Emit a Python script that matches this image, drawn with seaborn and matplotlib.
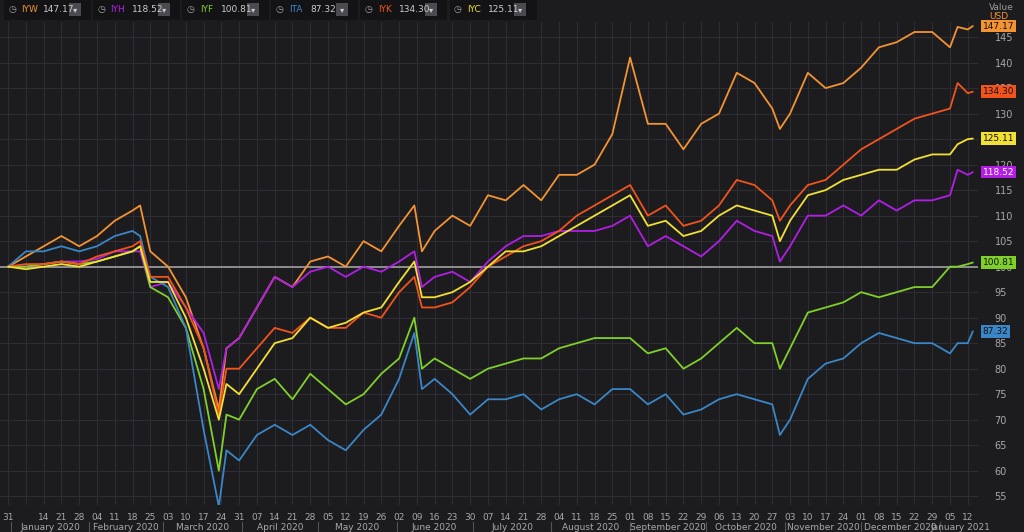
import matplotlib
matplotlib.use("Agg")
import matplotlib.pyplot as plt
import seaborn as sns
import pandas as pd
import numpy as np

dates = ["2019-12-31","2020-01-07","2020-01-14","2020-01-21","2020-01-28","2020-02-04","2020-02-11","2020-02-18","2020-02-21","2020-02-25",
         "2020-03-03","2020-03-10","2020-03-17","2020-03-23","2020-03-26","2020-03-31","2020-04-07","2020-04-14","2020-04-21","2020-04-28",
         "2020-05-05","2020-05-12","2020-05-19","2020-05-26","2020-06-02","2020-06-08","2020-06-11","2020-06-16","2020-06-23","2020-06-30",
         "2020-07-07","2020-07-14","2020-07-21","2020-07-28","2020-08-04","2020-08-11","2020-08-18","2020-08-25","2020-09-01","2020-09-08",
         "2020-09-15","2020-09-22","2020-09-29","2020-10-06","2020-10-13","2020-10-20","2020-10-27","2020-10-30","2020-11-03","2020-11-10",
         "2020-11-17","2020-11-24","2020-12-01","2020-12-08","2020-12-15","2020-12-22","2020-12-29","2021-01-05","2021-01-08","2021-01-12","2021-01-14"]

IYW = [100,102,104,106,104,106,109,111,112,103,100,94,84,72,84,86,92,98,96,101,102,100,105,103,108,112,103,107,110,108,
       114,113,116,113,118,118,120,126,141,128,128,123,128,130,138,136,131,127,130,138,135,136,139,143,144,146,146,143,147,146.5,147.17]
IYH = [100,100,100.5,101,101,101.5,103,103,103,96,97,92,87,76,84,86,92,98,96,99,100,98,100,99,101,103,96,98,99,97,
       101,104,106,106,107,107,107,108,110,104,106,104,102,105,109,107,106,101,104,110,110,112,110,113,111,113,113,114,119,118,118.52]
IYF = [100,100,100.5,101,100.5,101,102,103,104,96,94,88,76,60,71,70,76,78,74,79,76,73,75,79,82,90,80,82,80,78,
       80,81,82,82,84,85,86,86,86,83,84,80,82,85,88,85,85,80,84,91,92,93,95,94,95,96,96,100,100,100.5,100.81]
ITA = [100,103,103,104,103,104,106,107,106,98,96,88,68,53,64,62,67,69,67,69,66,64,68,71,78,87,76,78,75,71,
       74,74,75,72,74,75,73,76,76,73,75,71,72,74,75,74,73,67,70,78,81,82,85,87,86,85,85,83,85,85,87.32]
IYK = [100,100.5,100.5,101,100.5,102,103,104,105,98,98,92,84,71,80,80,84,88,87,90,88,88,91,90,95,98,92,92,93,96,
       100,102,104,105,107,110,112,114,116,110,112,108,109,112,117,116,113,109,112,116,117,120,123,125,127,129,130,131,136,134,134.3]
IYC = [100,99.5,100,100.5,100,101,102,103,104,97,97,90,80,70,77,75,80,85,86,90,88,89,91,92,97,101,94,94,95,97,
       100,103,103,104,106,108,110,112,114,108,109,106,107,110,112,111,110,105,109,114,115,117,118,119,119,121,122,122,124,125,125.11]

names = ["IYW","IYH","IYF","ITA","IYK","IYC"]
series = [IYW, IYH, IYF, ITA, IYK, IYC]
colors = ["#f39332","#b21ee6","#80d02a","#3a86c6","#f2531c","#f2e034"]
y_ticks = list(range(55, 150, 5))
month_labels = ["January 2020","February 2020","March 2020","April 2020","May 2020","June 2020","July 2020",
                "August 2020","September 2020","October 2020","November 2020","December 2020","January 2021"]

sns.set_style("dark")
plt.rcParams['font.family'] = ['DejaVu Sans']
bg = "#1c1c1f"
fig = plt.figure(figsize=(10.24, 5.32), dpi=100, facecolor=bg)
ax = fig.add_axes([0.0, 0.051, 0.955, 0.908])
ax.set_facecolor(bg)

df = pd.DataFrame({"date": pd.to_datetime(dates)})
for n, s, c in zip(names, series, colors):
    sns.lineplot(x=df["date"], y=s, ax=ax, color=c, lw=1.3)

x0 = pd.Timestamp("2019-12-31")
ax.set_xlim(x0 - pd.Timedelta(days=3.2), x0 + pd.Timedelta(days=382))
ax.set_ylim(53.3, 148)
ax.axhline(100, color="#a0a0a0", lw=1.2, zorder=1)

ax.yaxis.tick_right()
ax.set_yticks(y_ticks)
ax.set_yticklabels([str(v) for v in y_ticks], color="#a8a8a8", fontsize=7)
ax.tick_params(axis="y", length=0, pad=12)
ax.set_ylabel("")
ax.set_xlabel("")

wk = pd.date_range("2020-01-07", "2021-01-12", freq="7D")
ticks = [x0] + list(wk)
ax.set_xticks(ticks)
ax.set_xticklabels([d.strftime("%d") if d != pd.Timestamp("2020-01-07") else "" for d in ticks],
                   color="#a8a8a8", fontsize=6.5)
ax.tick_params(axis="x", length=0, pad=6)
ax.grid(True, color="#2e2e32", lw=0.8)
for sp in ax.spines.values():
    sp.set_visible(False)

# month labels
for i, lab in enumerate(month_labels):
    start = pd.Timestamp(2020, 1, 1) + pd.DateOffset(months=i)
    end = start + pd.DateOffset(months=1)
    mid = start + (min(end, pd.Timestamp("2021-01-17")) - start) / 2
    ax.text(mid, -0.046, lab, transform=ax.get_xaxis_transform(), ha="center", va="center",
            color="#a8a8a8", fontsize=6.5)
    ax.plot([start, start], [-0.035, -0.055], transform=ax.get_xaxis_transform(), color="#555", lw=0.8, clip_on=False)

# right value boxes
for n, s, c in zip(names, series, colors):
    ax.text(1.005, (s[-1] - 53.3) / (148 - 53.3), f"{s[-1]:.2f}", transform=ax.transAxes,
            ha="left", va="center", fontsize=6.5, color="#111" if n != "IYH" else "white", zorder=10,
            bbox=dict(boxstyle="square,pad=0.2", fc=c, ec="none"))
fig.text(0.966, 0.995, "Value", color="#999", fontsize=6.5, va="top")
fig.text(0.966, 0.977, "USD", color="#f39332", fontsize=6.5, va="top")

# top legend bar
xs = [0.004, 0.091, 0.178, 0.265, 0.352, 0.439]
for x, n, s, c in zip(xs, names, series, colors):
    fig.patches.append(plt.Rectangle((x, 0.963), 0.085, 0.037, transform=fig.transFigure,
                                     fc="#131315", ec="none"))
    fig.text(x + 0.004, 0.982, "◷", color="#aaa", fontsize=6.5, va="center")
    fig.text(x + 0.017, 0.982, n, color=c, fontsize=6.5, va="center")
    fig.text(x + 0.038, 0.982, f"{s[-1]:.2f}", color="#ccc", fontsize=6.5, va="center")
    fig.patches.append(plt.Rectangle((x + 0.063, 0.970), 0.012, 0.024, transform=fig.transFigure,
                                     fc="#4a4a50", ec="none"))
    fig.text(x + 0.069, 0.982, "▾", color="#ccc", fontsize=6, va="center", ha="center")

fig.savefig("out.png", dpi=100, facecolor=bg)
